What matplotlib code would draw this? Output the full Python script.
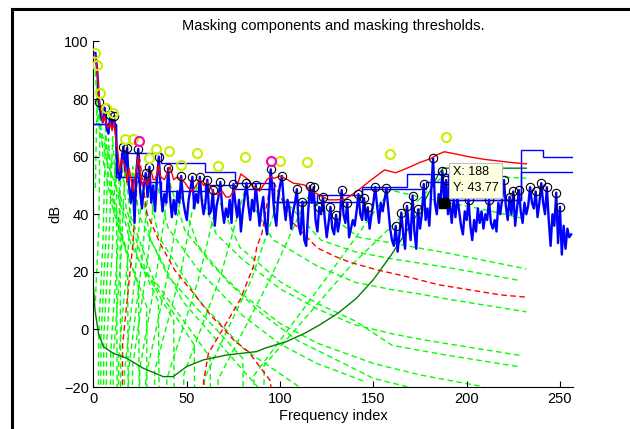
import numpy as np
import matplotlib.pyplot as plt
from matplotlib.lines import Line2D

plt.rcParams['font.family'] = ['Liberation Sans', 'DejaVu Sans']

# power spectrum, frequency index 1..256
spectrum = [
    96, 90, 79, 74, 72, 77, 70, 68, 74.5, 70, 74, 68, 55, 52, 58, 63.5, 55, 63, 50, 44,
    52, 37, 55, 62.7, 48, 42, 50, 54.3, 46, 56.5, 44, 50, 41, 52, 60, 49, 41, 47, 44, 56,
    46, 39, 45, 40, 48, 44, 53.3, 45, 41, 38, 45, 49, 53, 42, 47, 44, 53, 45, 40, 44,
    52, 40, 41, 48.4, 36, 43, 46, 51.2, 42, 37, 42, 39, 45, 37, 50.5, 44, 39, 45, 34, 41,
    46, 50.8, 43, 38, 45, 41, 50.2, 43, 36, 42, 46, 37, 33, 44, 55.6, 48, 40, 36, 46, 50,
    53.3, 44, 38, 45, 42, 35, 41, 44, 48.7, 36, 33, 44.4, 31, 29, 40, 49.8, 44, 49.4, 38, 34,
    42.5, 40, 46.1, 38, 32, 37, 42.6, 35, 33, 39.8, 34, 38, 48.4, 40, 37, 44, 32, 35, 38, 36,
    41, 47, 40, 38, 45.6, 38, 42.4, 35, 40, 44, 49.4, 43, 37, 44, 41, 45, 49, 42, 35, 31,
    29, 35.9, 27, 33, 40.6, 33, 28, 42.9, 36, 31, 46.5, 34, 28, 41.7, 35, 40, 50.5, 38, 42, 36,
    48, 59.6, 44, 40, 47, 44, 55, 43.77, 51.9, 40, 44, 37, 45, 39, 46, 41, 36, 33, 41, 38,
    45, 36, 31, 38, 34, 42, 37, 41, 35, 40, 38, 45, 37, 35, 38, 34, 44, 40, 45, 51.9,
    43, 38, 46.1, 40, 47.9, 36, 42, 48.4, 41, 37, 44, 40, 43, 49.4, 44, 42, 47.9, 39, 44, 50.8,
    44, 40, 49.4, 38, 29, 40, 36, 47.5, 30, 42.6, 26, 36, 28, 35, 32, 33,
]

# local maxima (black circles)
peak_idx = [3, 6, 9, 11, 16, 18, 24, 28, 30, 35, 40, 47, 53, 57, 61, 64, 68, 75, 82, 87,
            95, 101, 109, 112, 116, 118, 121, 123, 127, 130, 133, 136, 142, 145, 147, 151,
            157, 162, 165, 168, 171, 174, 177, 182, 187, 189, 201, 212, 220, 223, 225, 228,
            234, 237, 240, 243, 248, 250]

# tonal maskers (yellow) and non-tonal maskers (magenta)
tonal_x = [1, 2, 3.5, 6.5, 10.3, 17, 21, 29.5, 33.5, 40.6, 46.8, 55.5, 66.8, 81, 100, 114.5, 159, 189]
tonal_db = [96, 92, 82, 77, 75, 66, 66, 59.4, 62.5, 62, 57, 61.2, 56.8, 59.8, 58.5, 58, 61, 67]
noise_x = [24.4, 95.4]
noise_db = [65.4, 58.5]

# individual masking thresholds of the tonal maskers
tonal_curves = [
    ([1, 2.2, 4, 8, 12.3, 13], [89.7, 72.7, 68.7, 60.9, 54.5, -100]),
    ([1, 2, 3.2, 8, 14.2, 15], [49.1, 85.5, 68.5, 56.7, 46.1, -100]),
    ([1, 2.9, 3.5, 5.3, 10, 18.3, 19], [9.9, 36.2, 75, 58, 43, 25.1, -100]),
    ([2, 2.8, 5.2, 6.5, 7.9, 12, 24.2, 25], [-100, -1.3, 32.7, 69.5, 52.5, 39.7, 14.3, -100]),
    ([3.5, 4, 6.6, 8, 9.7, 16, 28.5, 29], [-100, -3.4, 30.6, 66.2, 49.2, 30.3, 7.9, -100]),
    ([5, 5.5, 8.3, 10.3, 11.8, 20, 34.8, 36], [-100, -3.1, 30.9, 66.9, 49.9, 29.8, 9.7, -100]),
    ([6.5, 7, 10.2, 12, 14.2, 24, 43, 44], [-100, -5.2, 28.8, 63.6, 46.6, 24.3, 3.2, -100]),
    ([8.7, 9.2, 12.8, 15, 17.5, 28, 54, 55], [-100, -8, 26, 59.2, 42.2, 20.4, -5.4, -100]),
    ([10, 10.6, 14.7, 17, 19.6, 32, 62.5, 64], [-100, -9.4, 24.6, 57, 40, 17.6, -9.7, -100]),
    ([13, 13.5, 18.3, 21, 24.4, 40, 80, 82], [-100, -9.8, 24.2, 56.6, 39.6, 18.3, -10.1, -100]),
    ([16, 16.6, 22.3, 26, 30.5, 48, 88], [-100, -15, 19, 48.2, 31.2, 9.6, -20]),
    ([18, 18.8, 25.2, 29.5, 34.8, 56, 80, 120], [-100, -14.4, 19.6, 49.4, 32.4, 10.5, -6.5, -24.3]),
    ([20, 21, 28.5, 33.5, 40, 56, 80, 100, 120, 145],
     [-100, -12.8, 21.2, 52.2, 35.2, 20.8, 4.8, -5.1, -11.9, -18]),
    ([24, 24.8, 34, 40.6, 49, 64, 80, 100, 120, 150, 175, 209],
     [-100, -13.6, 20.4, 51.4, 34.4, 22.1, 12.1, 2.1, -4.8, -11.8, -15.8, -19.9]),
    ([27, 28, 39.3, 46.8, 56, 72, 90, 110, 130, 150, 175],
     [-100, -16.6, 17.4, 46.2, 29.2, 16.5, 5.5, -4.1, -10.5, -17, -21]),
    ([32, 32.8, 46.8, 55.5, 65.7, 80, 100, 120, 140, 160, 175, 190, 228.4],
     [-100, -14.3, 19.7, 50.2, 33.2, 24.2, 14.1, 7.1, 1.6, -1.5, -3.4, -5, -9]),
    ([38, 39.3, 56, 66.8, 78.5, 100, 120, 140, 160, 175, 190, 228.4],
     [-100, -17.2, 16.8, 45.5, 28.5, 16.6, 9, 3, -5.5, -7.3, -9, -13]),
    ([47, 48.4, 68, 81, 96, 120, 140, 160, 175, 190, 232],
     [-100, -15.7, 18.3, 48.2, 31.2, 22, 16.4, 13.8, 12.3, 10.5, 6.1]),
    ([58, 59.5, 84.5, 100, 122, 140, 160, 175, 190, 228.4],
     [-100, -16.9, 17.1, 46.5, 31, 27, 24.5, 23, 21.5, 17]),
    ([65, 66.8, 94, 114.5, 142, 160, 175, 190, 232],
     [-100, -17.4, 16.6, 45.8, 32, 30, 28.2, 26.5, 21]),
    ([84, 86, 125, 159, 175, 190, 207, 232], [-100, -16, 18, 48.4, 46, 44, 42, 38.3]),
    ([90, 91.5, 137, 189, 200, 232], [-100, -12.5, 21.5, 54.3, 53.5, 52.5]),
]

# individual masking thresholds of the non-tonal maskers
noise_curves = [
    ([15, 15.6, 21, 24.4, 28.6, 35.7, 43.5, 53.6, 63.4, 68.9, 75, 83, 95, 96],
     [-100, -5.2, 28.8, 61, 40.4, 29.9, 20.6, 12.6, 4.4, 1, -3.6, -7.7, -18, -100]),
    ([56, 59, 61.6, 78.6, 85.7, 87.6, 90.3, 95.4, 107, 120, 129, 137.5, 152, 170, 185, 202, 218, 232],
     [-100, -18, -8.3, 10.3, 21.8, 28.8, 33.4, 52.7, 37, 28.3, 25.5, 23.3, 20.7, 18, 15.5, 13.7, 12, 11.2]),
]

# global masking threshold
glob_x = [1, 2, 3, 4, 5, 6, 7, 8, 9, 10, 11, 12, 13, 14, 15, 16, 17, 18, 19, 20, 21, 22, 23, 24,
          25, 26, 27, 28, 29, 30, 31, 32, 33, 34, 35, 36, 38, 40, 41, 43, 45, 47, 49, 51, 53, 55,
          57, 59, 61, 63, 65, 67, 69, 71, 73, 75, 77, 79, 81, 83, 85, 87, 89, 91, 93, 95, 97, 100,
          104, 107, 113, 117, 121, 126, 130, 135, 142, 149, 156, 162, 168, 175, 181, 184, 188,
          192, 201, 209, 217, 225, 232]
glob_db = [95, 90, 80, 76, 72, 74, 71, 70, 72, 69, 72, 66, 62, 55, 59, 58, 57, 51, 56, 53, 48,
           52, 56, 60, 55, 50, 51, 52, 50, 53, 55, 52, 52, 54, 57, 53, 52, 55, 56.5, 52, 53, 52,
           51, 49, 48, 50, 52, 50, 51, 49, 47, 47, 48, 46, 46, 48, 50, 54, 53, 52, 50, 49, 48,
           50, 52, 53, 52.5, 53.3, 52, 50.8, 50.2, 48, 46.7, 45, 45, 45.2, 48.4, 52, 55.4, 54.4,
           56, 58, 59.4, 60.6, 61.7, 61.2, 60, 59.1, 58.5, 57.9, 57.5]

# absolute threshold of hearing
abs_x = [0, 0.8, 2.6, 5.3, 10.6, 17.8, 26.7, 37.4, 42.7, 49.9, 58.8, 71.3, 87.4, 92, 103.5,
         113.3, 121.3, 131, 140.9, 149.9, 159, 166, 173, 176.6, 181, 185, 187.4, 232]
abs_db = [14.3, 6.8, -1.2, -6, -8.3, -10, -13.5, -16.4, -16.4, -12.9, -10.6, -8.9, -7.7, -6.5,
          -4.2, -1.3, 1.6, 5.6, 10.8, 17.2, 25.3, 32.2, 39.5, 43.5, 49, 54, 56, 56]

# per-band minimum thresholds (stairs)
hi_edges = [0, 12, 15, 36, 60, 76, 97, 120, 144, 168, 190, 229, 241, 257]
hi_db = [71.4, 53.1, 61.2, 57.7, 54.8, 50.8, 44.4, 46.7, 49.6, 54, 45, 62.3, 60]
lo_edges = [0, 12, 24, 36, 60, 76, 97, 144, 178, 190, 229, 257]
lo_db = [71.4, 53.1, 51.3, 47.9, 50, 48.7, 44.4, 48.7, 51.3, 45, 54.8]

tip_x = 188

fig = plt.figure(figsize=(6.3, 4.29), dpi=100)
ax = fig.add_axes([0.1484, 0.0979, 0.7611, 0.8054])

dash = (0, (4, 2.5))
for cx, cy in tonal_curves:
    ax.plot(cx, cy, color='#00ff00', lw=1, linestyle=dash, zorder=1)
for cx, cy in noise_curves:
    ax.plot(cx, cy, color='#ff0000', lw=1, linestyle=dash, zorder=1.2)
ax.plot(abs_x, abs_db, color='#007f00', lw=1, zorder=1.5)
ax.stairs(hi_db, hi_edges, color='#0000ff', lw=1, zorder=2, baseline=None)
ax.stairs(lo_db, lo_edges, color='#0000ff', lw=1, zorder=2, baseline=None)

freq = np.arange(1, len(spectrum) + 1)
spec = np.array(spectrum)
ax.plot(freq, spec, color='#0000ff', lw=1.7, zorder=3)
ax.plot(glob_x, glob_db, color='#ff0000', lw=1, zorder=3.5)

ax.plot(peak_idx, spec[np.array(peak_idx) - 1], 'o', ms=6, mfc='none', mec='black', mew=0.8, zorder=5)
ax.plot(tonal_x, tonal_db, 'o', ms=6.5, mfc='none', mec='#c8f000', mew=1.5, zorder=5)
ax.plot(noise_x, noise_db, 'o', ms=6.5, mfc='none', mec='#ff00aa', mew=1.5, zorder=5)

# data tip
ax.plot([tip_x], [spec[tip_x - 1]], 's', ms=6.5, color='black', zorder=6)
ax.annotate('X: %d\nY: %.2f' % (tip_x, spec[tip_x - 1]), xy=(tip_x, spec[tip_x - 1]),
            xytext=(6, 6.5), textcoords='offset points', ha='left', va='bottom',
            fontsize=9, linespacing=1.45, zorder=7,
            bbox=dict(boxstyle='square,pad=0.3', fc='#ffffe1', ec='#c0c0c0', lw=0.8))

ax.set_xlim(0, 257)
ax.set_ylim(-20, 100)
ax.set_xticks([0, 50, 100, 150, 200, 250])
ax.set_yticks([-20, 0, 20, 40, 60, 80, 100])
ax.spines['top'].set_visible(False)
ax.spines['right'].set_visible(False)
ax.tick_params(direction='in', length=4, labelsize=10.5, width=0.8)
ax.set_title('Masking components and masking thresholds.', fontsize=10.5, pad=8)
ax.set_xlabel('Frequency index', fontsize=10.5, labelpad=2)
ax.set_ylabel('dB', fontsize=10.5, labelpad=1)

# screenshot frame
fig.add_artist(Line2D([12 / 630, 12 / 630], [0, 1 - 9 / 429], color='black', lw=2.2))
fig.add_artist(Line2D([12 / 630, 1], [1 - 9 / 429, 1 - 9 / 429], color='black', lw=2.2))

fig.savefig('out.png', dpi=100)
